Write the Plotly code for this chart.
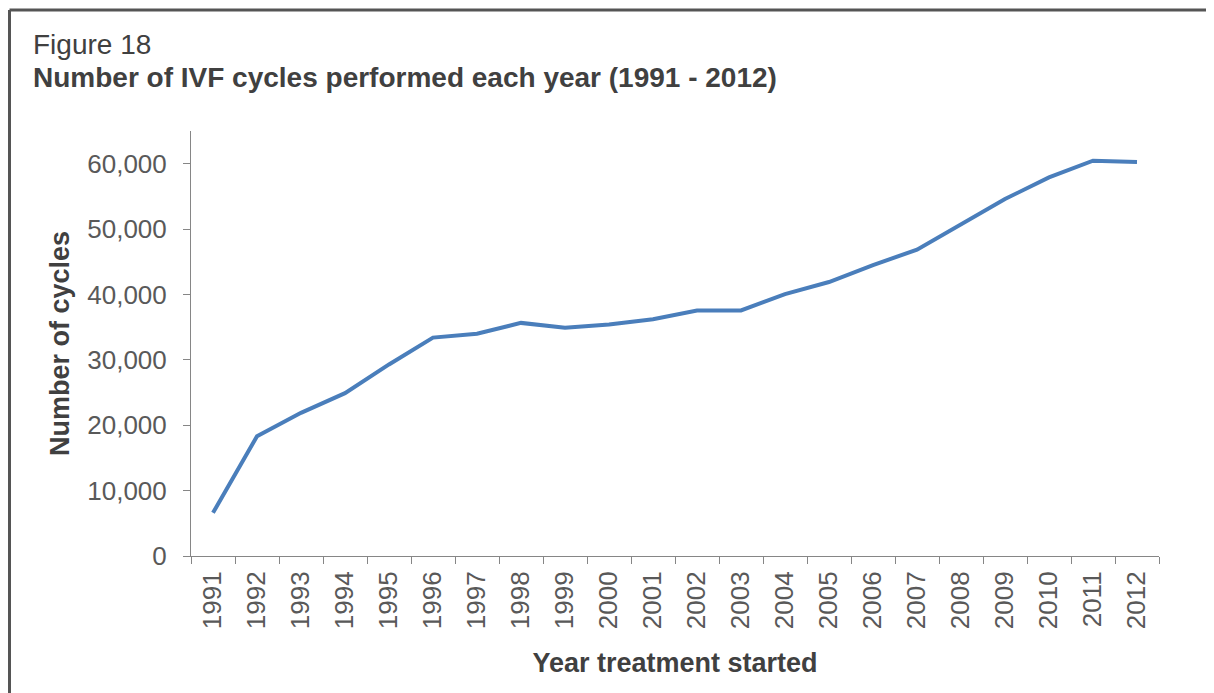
import plotly.graph_objects as go

# data
years = [str(y) for y in range(1991, 2013)]
cycles = [6600, 18300, 21900, 24900, 29300, 33400, 34000, 35650, 34900, 35420,
          36200, 37550, 37550, 40050, 41900, 44500, 46850, 50750, 54600, 57900,
          60450, 60250]
y_ticks = [0, 10000, 20000, 30000, 40000, 50000, 60000]

font = "Liberation Sans, Arial, sans-serif"
text_col = "#404040"
axis_col = "#868686"

fig = go.Figure()

fig.add_trace(
    go.Scatter(
        x=years,
        y=cycles,
        mode="lines",
        line=dict(color="#4A7EBB", width=4),
        name="cycles",
    )
)

# page body has an 8px margin, so the figure is a bit smaller than the window
fig.update_layout(
    width=1206,
    height=685,
    margin=dict(l=183, r=55, t=123, b=137),
    paper_bgcolor="white",
    plot_bgcolor="white",
    showlegend=False,
    font=dict(family=font, color=text_col),
    xaxis=dict(
        type="category",
        range=[-0.5, len(years) - 0.5],
        tickson="boundaries",
        ticks="outside",
        ticklen=7,
        tickcolor=axis_col,
        showline=True,
        linecolor=axis_col,
        linewidth=1,
        showgrid=False,
        tickangle=-90,
        ticklabelstandoff=4,
        tickfont=dict(size=26, color="#595959"),
        title=dict(text="<b>Year treatment started</b>", font=dict(size=27, color=text_col), standoff=24),
    ),
    yaxis=dict(
        range=[0, 65000],
        tickvals=y_ticks,
        tickformat=",d",
        ticks="outside",
        ticklen=7,
        tickcolor=axis_col,
        showline=True,
        linecolor=axis_col,
        linewidth=1,
        showgrid=False,
        zeroline=False,
        ticklabelstandoff=11,
        tickfont=dict(size=26, color="#595959"),
        title=dict(text="<b>Number of cycles</b>", font=dict(size=27, color=text_col), standoff=9),
    ),
)

# titles
fig.add_annotation(
    text="Figure 18", xref="paper", yref="paper", x=-0.1653, y=1.2024,
    xanchor="left", yanchor="middle", showarrow=False,
    font=dict(size=28, color=text_col),
)
fig.add_annotation(
    text="<b>Number of IVF cycles performed each year (1991 - 2012)</b>",
    xref="paper", yref="paper", x=-0.1653, y=1.1255,
    xanchor="left", yanchor="middle", showarrow=False,
    font=dict(size=28, color=text_col),
)

# frame lines (left and top)
fig.add_shape(type="line", xref="paper", yref="paper", x0=-0.1875, x1=-0.1875, y0=1.2847, y1=-0.33,
              line=dict(color="#555555", width=3))
fig.add_shape(type="line", xref="paper", yref="paper", x0=-0.1875, x1=1.06, y0=1.2847, y1=1.2847,
              line=dict(color="#555555", width=3))

fig.write_html("out.html")
